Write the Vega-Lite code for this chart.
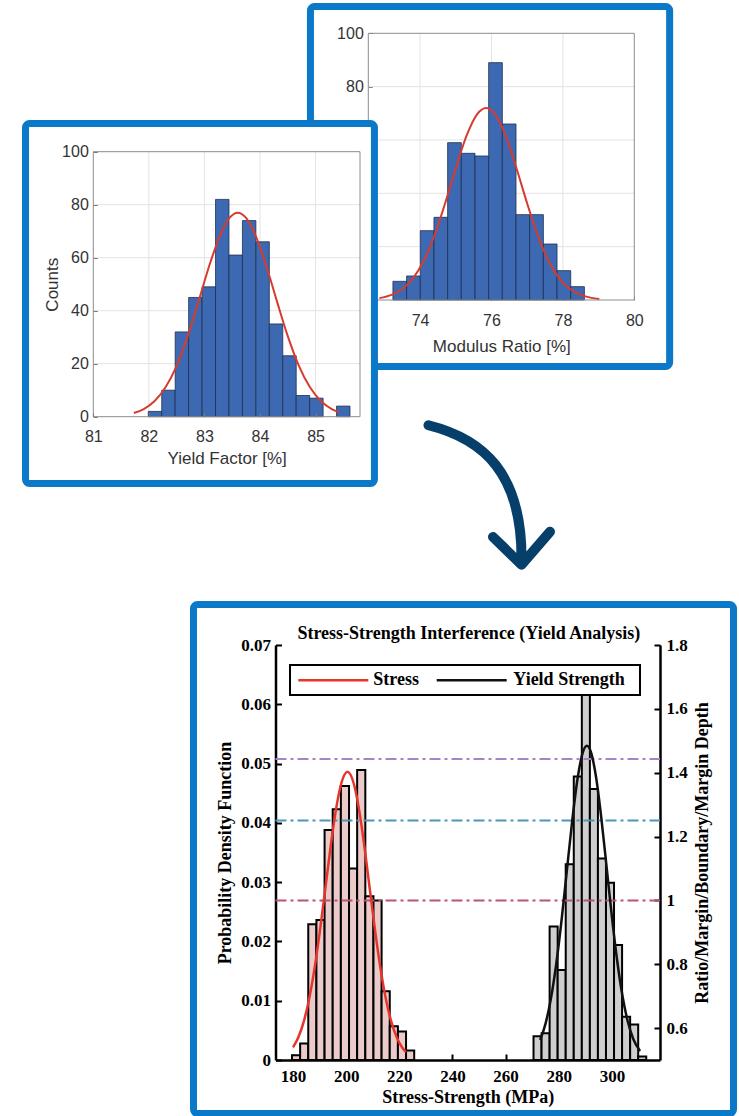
{
"$schema": "https://vega.github.io/schema/vega-lite/v6.json",
"width": 739, "height": 1116,
"autosize": {"type": "none"},
"padding": 0,
"background": "white",
"view": {"stroke": null},
"config": {
  "axis": {"labelFlush": false, "labelOverlap": false, "grid": false, "ticks": true}
},
"datasets": {
  "yf_hist": [
    {"bin_start":81.99,"bin_end":82.232,"count":2},
    {"bin_start":82.232,"bin_end":82.474,"count":10},
    {"bin_start":82.474,"bin_end":82.716,"count":32},
    {"bin_start":82.716,"bin_end":82.958,"count":45},
    {"bin_start":82.958,"bin_end":83.2,"count":49},
    {"bin_start":83.2,"bin_end":83.442,"count":82},
    {"bin_start":83.442,"bin_end":83.684,"count":61},
    {"bin_start":83.684,"bin_end":83.926,"count":74},
    {"bin_start":83.926,"bin_end":84.168,"count":66},
    {"bin_start":84.168,"bin_end":84.41,"count":35},
    {"bin_start":84.41,"bin_end":84.652,"count":23},
    {"bin_start":84.652,"bin_end":84.894,"count":8},
    {"bin_start":84.894,"bin_end":85.136,"count":7},
    {"bin_start":85.378,"bin_end":85.62,"count":4}
  ],
  "yf_fit": [
    {"x":81.73,"y":1.4},{"x":81.9,"y":2.8},{"x":82.1,"y":5.8},{"x":82.3,"y":11.1},{"x":82.5,"y":19.2},
    {"x":82.7,"y":30.4},{"x":82.9,"y":43.9},{"x":83.1,"y":57.8},{"x":83.3,"y":69.4},{"x":83.45,"y":75.0},
    {"x":83.6,"y":77.0},{"x":83.75,"y":75.0},{"x":83.9,"y":69.4},{"x":84.1,"y":57.8},{"x":84.3,"y":43.9},
    {"x":84.5,"y":30.4},{"x":84.7,"y":19.2},{"x":84.9,"y":11.1},{"x":85.1,"y":5.8},{"x":85.3,"y":2.8},{"x":85.42,"y":1.7}
  ],
  "yf_grid_x": [{"v":82},{"v":83},{"v":84},{"v":85}],
  "yf_grid_y": [{"v":20},{"v":40},{"v":60},{"v":80}],
  "mr_hist": [
    {"bin_start":73.24,"bin_end":73.623,"count":7},
    {"bin_start":73.623,"bin_end":74.006,"count":9},
    {"bin_start":74.006,"bin_end":74.389,"count":26},
    {"bin_start":74.389,"bin_end":74.772,"count":31},
    {"bin_start":74.772,"bin_end":75.155,"count":59},
    {"bin_start":75.155,"bin_end":75.538,"count":55},
    {"bin_start":75.538,"bin_end":75.921,"count":54},
    {"bin_start":75.921,"bin_end":76.304,"count":89},
    {"bin_start":76.304,"bin_end":76.687,"count":66},
    {"bin_start":76.687,"bin_end":77.07,"count":32},
    {"bin_start":77.07,"bin_end":77.453,"count":32},
    {"bin_start":77.453,"bin_end":77.836,"count":21},
    {"bin_start":77.836,"bin_end":78.219,"count":11},
    {"bin_start":78.219,"bin_end":78.602,"count":5}
  ],
  "mr_fit": [
    {"x":72.86,"y":0.7},{"x":73.2,"y":1.9},{"x":73.5,"y":4.1},{"x":73.8,"y":8.1},{"x":74.1,"y":14.6},
    {"x":74.4,"y":24.1},{"x":74.7,"y":36.2},{"x":75.0,"y":49.4},{"x":75.3,"y":61.5},{"x":75.6,"y":69.7},
    {"x":75.85,"y":72.0},{"x":76.1,"y":69.7},{"x":76.4,"y":61.5},{"x":76.7,"y":49.4},{"x":77.0,"y":36.2},
    {"x":77.3,"y":24.1},{"x":77.6,"y":14.6},{"x":77.9,"y":8.1},{"x":78.2,"y":4.1},{"x":78.5,"y":1.9},
    {"x":78.8,"y":0.8},{"x":79.02,"y":0.4}
  ],
  "mr_grid_x": [{"v":74},{"v":76},{"v":78}],
  "mr_grid_y": [{"v":20},{"v":40},{"v":60},{"v":80}],
  "ss_hist": [
    {"series":"Stress","bin_start":179.6,"bin_end":182.67,"density":0.0008},
    {"series":"Stress","bin_start":182.67,"bin_end":185.73,"density":0.0028},
    {"series":"Stress","bin_start":185.73,"bin_end":188.8,"density":0.0229},
    {"series":"Stress","bin_start":188.8,"bin_end":191.87,"density":0.0236},
    {"series":"Stress","bin_start":191.87,"bin_end":194.93,"density":0.0388},
    {"series":"Stress","bin_start":194.93,"bin_end":198.0,"density":0.0423},
    {"series":"Stress","bin_start":198.0,"bin_end":201.07,"density":0.0462},
    {"series":"Stress","bin_start":201.07,"bin_end":204.13,"density":0.0323},
    {"series":"Stress","bin_start":204.13,"bin_end":207.2,"density":0.0489},
    {"series":"Stress","bin_start":207.2,"bin_end":210.27,"density":0.0276},
    {"series":"Stress","bin_start":210.27,"bin_end":213.33,"density":0.0269},
    {"series":"Stress","bin_start":213.33,"bin_end":216.4,"density":0.0116},
    {"series":"Stress","bin_start":216.4,"bin_end":219.47,"density":0.0057},
    {"series":"Stress","bin_start":219.47,"bin_end":222.53,"density":0.0048},
    {"series":"Stress","bin_start":222.53,"bin_end":225.6,"density":0.0016},
    {"series":"Yield Strength","bin_start":270.5,"bin_end":273.53,"density":0.0040},
    {"series":"Yield Strength","bin_start":273.53,"bin_end":276.56,"density":0.0045},
    {"series":"Yield Strength","bin_start":276.56,"bin_end":279.59,"density":0.0225},
    {"series":"Yield Strength","bin_start":279.59,"bin_end":282.62,"density":0.0152},
    {"series":"Yield Strength","bin_start":282.62,"bin_end":285.65,"density":0.0330},
    {"series":"Yield Strength","bin_start":285.65,"bin_end":288.68,"density":0.0478},
    {"series":"Yield Strength","bin_start":288.68,"bin_end":291.71,"density":0.0650},
    {"series":"Yield Strength","bin_start":291.71,"bin_end":294.74,"density":0.0457},
    {"series":"Yield Strength","bin_start":294.74,"bin_end":297.77,"density":0.0340},
    {"series":"Yield Strength","bin_start":297.77,"bin_end":300.8,"density":0.0299},
    {"series":"Yield Strength","bin_start":300.8,"bin_end":303.83,"density":0.0194},
    {"series":"Yield Strength","bin_start":303.83,"bin_end":306.86,"density":0.0073},
    {"series":"Yield Strength","bin_start":306.86,"bin_end":309.89,"density":0.0060},
    {"series":"Yield Strength","bin_start":309.89,"bin_end":312.92,"density":0.0006}
  ],
  "ss_fit": [
    {"series":"Stress","x":180,"pdf":0.00214},{"series":"Stress","x":182,"pdf":0.00382},
    {"series":"Stress","x":184,"pdf":0.00642},{"series":"Stress","x":186,"pdf":0.01018},
    {"series":"Stress","x":188,"pdf":0.01521},{"series":"Stress","x":190,"pdf":0.02141},
    {"series":"Stress","x":192,"pdf":0.0284},{"series":"Stress","x":194,"pdf":0.0355},
    {"series":"Stress","x":196,"pdf":0.04181},{"series":"Stress","x":198,"pdf":0.04639},
    {"series":"Stress","x":200.5,"pdf":0.0486},{"series":"Stress","x":203,"pdf":0.04639},
    {"series":"Stress","x":205,"pdf":0.04181},{"series":"Stress","x":207,"pdf":0.0355},
    {"series":"Stress","x":209,"pdf":0.0284},{"series":"Stress","x":211,"pdf":0.02141},
    {"series":"Stress","x":213,"pdf":0.01521},{"series":"Stress","x":215,"pdf":0.01018},
    {"series":"Stress","x":217,"pdf":0.00642},{"series":"Stress","x":219,"pdf":0.00382},
    {"series":"Stress","x":221,"pdf":0.00214},{"series":"Stress","x":222.5,"pdf":0.00133},
    {"series":"Yield Strength","x":273,"pdf":0.00338},{"series":"Yield Strength","x":275,"pdf":0.0061},
    {"series":"Yield Strength","x":277,"pdf":0.01024},{"series":"Yield Strength","x":279,"pdf":0.01603},
    {"series":"Yield Strength","x":281,"pdf":0.02336},{"series":"Yield Strength","x":283,"pdf":0.03172},
    {"series":"Yield Strength","x":285,"pdf":0.0401},{"series":"Yield Strength","x":287,"pdf":0.04723},
    {"series":"Yield Strength","x":289,"pdf":0.05181},{"series":"Yield Strength","x":290.6,"pdf":0.053},
    {"series":"Yield Strength","x":292,"pdf":0.05208},{"series":"Yield Strength","x":294,"pdf":0.04782},
    {"series":"Yield Strength","x":296,"pdf":0.0409},{"series":"Yield Strength","x":298,"pdf":0.03257},
    {"series":"Yield Strength","x":300,"pdf":0.02416},{"series":"Yield Strength","x":302,"pdf":0.0167},
    {"series":"Yield Strength","x":304,"pdf":0.01074},{"series":"Yield Strength","x":306,"pdf":0.00644},
    {"series":"Yield Strength","x":308,"pdf":0.00359},{"series":"Yield Strength","x":310.6,"pdf":0.00151}
  ],
  "limits": [
    {"level":"1.00","value":1.0},
    {"level":"1.25","value":1.25},
    {"level":"1.44","value":1.443}
  ]
},
"layer": [
  {"data": {"values": [{}]},
   "mark": {"type": "rect", "filled": false, "stroke": "#0b78c8", "strokeWidth": 7, "cornerRadius": 4},
   "encoding": {
     "x": {"datum": 70.93, "type": "quantitative", "scale": {"domain": [72.55, 80], "range": [368.3, 634.3], "nice": false, "zero": false}, "axis": null},
     "x2": {"datum": 80.99},
     "y": {"datum": -24.93, "type": "quantitative", "scale": {"domain": [0, 100], "range": [300, 33.3], "nice": false, "zero": false}, "axis": null},
     "y2": {"datum": 110.05}}},
  {"data": {"name": "mr_grid_x"},
   "mark": {"type": "rule", "color": "#e3e3e3", "strokeWidth": 1},
   "encoding": {
     "x": {"field": "v", "type": "quantitative", "scale": {"domain": [72.55, 80], "range": [368.3, 634.3], "nice": false, "zero": false}, "axis": null},
     "y": {"datum": 0, "type": "quantitative", "scale": {"domain": [0, 100], "range": [300, 33.3], "nice": false, "zero": false}, "axis": null},
     "y2": {"datum": 100}}},
  {"data": {"name": "mr_grid_y"},
   "mark": {"type": "rule", "color": "#e3e3e3", "strokeWidth": 1},
   "encoding": {
     "y": {"field": "v", "type": "quantitative", "scale": {"domain": [0, 100], "range": [300, 33.3], "nice": false, "zero": false}, "axis": null},
     "x": {"datum": 72.55, "type": "quantitative", "scale": {"domain": [72.55, 80], "range": [368.3, 634.3], "nice": false, "zero": false}, "axis": null},
     "x2": {"datum": 80}}},
  {"data": {"name": "mr_hist"},
   "mark": {"type": "rect", "fill": "#3d69b3", "stroke": "#1d2f50", "strokeWidth": 0.8},
   "encoding": {
     "x": {"field": "bin_start", "type": "quantitative", "scale": {"domain": [72.55, 80], "range": [368.3, 634.3], "nice": false, "zero": false},
           "axis": {"orient": "bottom", "offset": -816, "values": [74, 76, 78, 80], "format": "d", "title": "Modulus Ratio [%]",
                    "domain": false, "tickSize": -4, "tickColor": "#7a7a7a", "labelPadding": 16,
                    "labelFont": "Liberation Sans", "labelFontSize": 16, "labelColor": "#333333",
                    "titleFont": "Liberation Sans", "titleFontSize": 17, "titleFontWeight": "normal", "titleColor": "#333333", "titlePadding": 10}},
     "x2": {"field": "bin_end"},
     "y": {"field": "count", "type": "quantitative", "scale": {"domain": [0, 100], "range": [300, 33.3], "nice": false, "zero": false},
           "axis": {"orient": "left", "offset": -368.3, "values": [0, 20, 40, 60, 80, 100], "format": "d", "title": null,
                    "domain": false, "tickSize": -4, "tickColor": "#7a7a7a", "labelPadding": 9,
                    "labelFont": "Liberation Sans", "labelFontSize": 16, "labelColor": "#333333"}},
     "y2": {"datum": 0}}},
  {"data": {"name": "mr_fit"},
   "mark": {"type": "line", "color": "#d63b2f", "strokeWidth": 2, "interpolate": "monotone"},
   "encoding": {
     "x": {"field": "x", "type": "quantitative", "scale": {"domain": [72.55, 80], "range": [368.3, 634.3], "nice": false, "zero": false}, "axis": null},
     "y": {"field": "y", "type": "quantitative", "scale": {"domain": [0, 100], "range": [300, 33.3], "nice": false, "zero": false}, "axis": null}}},
  {"data": {"values": [{}]},
   "mark": {"type": "rect", "filled": false, "stroke": "#8c8c8c", "strokeWidth": 1},
   "encoding": {
     "x": {"datum": 72.55, "type": "quantitative", "scale": {"domain": [72.55, 80], "range": [368.3, 634.3], "nice": false, "zero": false}, "axis": null},
     "x2": {"datum": 80},
     "y": {"datum": 0, "type": "quantitative", "scale": {"domain": [0, 100], "range": [300, 33.3], "nice": false, "zero": false}, "axis": null},
     "y2": {"datum": 100}}},

  {"data": {"values": [{}]},
   "mark": {"type": "rect", "fill": "white", "stroke": "#0b78c8", "strokeWidth": 7, "cornerRadius": 4},
   "encoding": {
     "x": {"datum": 79.78, "type": "quantitative", "scale": {"domain": [81, 85.8], "range": [93.3, 360], "nice": false, "zero": false}, "axis": null},
     "x2": {"datum": 86.06},
     "y": {"datum": -25.21, "type": "quantitative", "scale": {"domain": [0, 100], "range": [416.7, 151.7], "nice": false, "zero": false}, "axis": null},
     "y2": {"datum": 110.64}}},
  {"data": {"name": "yf_grid_x"},
   "mark": {"type": "rule", "color": "#e3e3e3", "strokeWidth": 1},
   "encoding": {
     "x": {"field": "v", "type": "quantitative", "scale": {"domain": [81, 85.8], "range": [93.3, 360], "nice": false, "zero": false}, "axis": null},
     "y": {"datum": 0, "type": "quantitative", "scale": {"domain": [0, 100], "range": [416.7, 151.7], "nice": false, "zero": false}, "axis": null},
     "y2": {"datum": 100}}},
  {"data": {"name": "yf_grid_y"},
   "mark": {"type": "rule", "color": "#e3e3e3", "strokeWidth": 1},
   "encoding": {
     "y": {"field": "v", "type": "quantitative", "scale": {"domain": [0, 100], "range": [416.7, 151.7], "nice": false, "zero": false}, "axis": null},
     "x": {"datum": 81, "type": "quantitative", "scale": {"domain": [81, 85.8], "range": [93.3, 360], "nice": false, "zero": false}, "axis": null},
     "x2": {"datum": 85.8}}},
  {"data": {"name": "yf_hist"},
   "mark": {"type": "rect", "fill": "#3d69b3", "stroke": "#1d2f50", "strokeWidth": 0.8},
   "encoding": {
     "x": {"field": "bin_start", "type": "quantitative", "scale": {"domain": [81, 85.8], "range": [93.3, 360], "nice": false, "zero": false},
           "axis": {"orient": "bottom", "offset": -699.3, "values": [81, 82, 83, 84, 85], "format": "d", "title": "Yield Factor [%]",
                    "domain": false, "tickSize": -4, "tickColor": "#7a7a7a", "labelPadding": 16, "zindex": 1,
                    "labelFont": "Liberation Sans", "labelFontSize": 16, "labelColor": "#333333",
                    "titleFont": "Liberation Sans", "titleFontSize": 17, "titleFontWeight": "normal", "titleColor": "#333333", "titlePadding": 6}},
     "x2": {"field": "bin_end"},
     "y": {"field": "count", "type": "quantitative", "scale": {"domain": [0, 100], "range": [416.7, 151.7], "nice": false, "zero": false},
           "axis": {"orient": "left", "offset": -93.3, "values": [0, 20, 40, 60, 80, 100], "format": "d", "title": "Counts",
                    "domain": false, "tickSize": -4, "tickColor": "#7a7a7a", "labelPadding": 9, "zindex": 1,
                    "labelFont": "Liberation Sans", "labelFontSize": 16, "labelColor": "#333333",
                    "titleFont": "Liberation Sans", "titleFontSize": 17, "titleFontWeight": "normal", "titleColor": "#333333", "titlePadding": 0}},
     "y2": {"datum": 0}}},
  {"data": {"name": "yf_fit"},
   "mark": {"type": "line", "color": "#d63b2f", "strokeWidth": 2, "interpolate": "monotone"},
   "encoding": {
     "x": {"field": "x", "type": "quantitative", "scale": {"domain": [81, 85.8], "range": [93.3, 360], "nice": false, "zero": false}, "axis": null},
     "y": {"field": "y", "type": "quantitative", "scale": {"domain": [0, 100], "range": [416.7, 151.7], "nice": false, "zero": false}, "axis": null}}},
  {"data": {"values": [{}]},
   "mark": {"type": "rect", "filled": false, "stroke": "#8c8c8c", "strokeWidth": 1},
   "encoding": {
     "x": {"datum": 81, "type": "quantitative", "scale": {"domain": [81, 85.8], "range": [93.3, 360], "nice": false, "zero": false}, "axis": null},
     "x2": {"datum": 85.8},
     "y": {"datum": 0, "type": "quantitative", "scale": {"domain": [0, 100], "range": [416.7, 151.7], "nice": false, "zero": false}, "axis": null},
     "y2": {"datum": 100}}},

  {"data": {"values": [{}]},
   "mark": {"type": "rect", "filled": false, "stroke": "#0b78c8", "strokeWidth": 7, "cornerRadius": 4},
   "encoding": {
     "x": {"datum": 142.54, "type": "quantitative", "scale": {"domain": [173.4, 318.1], "range": [275.5, 660], "nice": false, "zero": false}, "axis": null},
     "x2": {"datum": 345.76},
     "y": {"datum": -0.009024, "type": "quantitative", "scale": {"domain": [0, 0.07], "range": [1060, 645], "nice": false, "zero": false}, "axis": null},
     "y2": {"datum": 0.07683}}},
  {"data": {"name": "ss_hist"},
   "mark": {"type": "rect", "stroke": "black", "strokeWidth": 2},
   "encoding": {
     "x": {"field": "bin_start", "type": "quantitative", "scale": {"domain": [173.4, 318.1], "range": [275.5, 660], "nice": false, "zero": false},
           "axis": {"orient": "bottom", "offset": -56, "values": [180, 200, 220, 240, 260, 280, 300], "format": "d", "title": "Stress-Strength (MPa)",
                    "domainColor": "black", "domainWidth": 2.5, "tickColor": "black", "tickWidth": 2, "tickSize": -6, "labelPadding": 14,
                    "labelFont": "Liberation Serif", "labelFontWeight": "bold", "labelFontSize": 17, "labelColor": "black",
                    "titleFont": "Liberation Serif", "titleFontWeight": "bold", "titleFontSize": 18, "titleColor": "black", "titlePadding": 4}},
     "x2": {"field": "bin_end"},
     "y": {"field": "density", "type": "quantitative", "scale": {"domain": [0, 0.07], "range": [1060, 645], "nice": false, "zero": false},
           "axis": {"orient": "left", "offset": -275.5, "values": [0, 0.01, 0.02, 0.03, 0.04, 0.05, 0.06, 0.07], "format": ".2~f", "title": "Probability Density Function",
                    "domainColor": "black", "domainWidth": 2.5, "tickColor": "black", "tickWidth": 2, "tickSize": -6, "labelPadding": 11,
                    "labelFont": "Liberation Serif", "labelFontWeight": "bold", "labelFontSize": 17, "labelColor": "black",
                    "titleFont": "Liberation Serif", "titleFontWeight": "bold", "titleFontSize": 18, "titleColor": "black", "titlePadding": 6}},
     "y2": {"datum": 0},
     "fill": {"field": "series", "type": "nominal", "scale": {"domain": ["Stress", "Yield Strength"], "range": ["#ebcaca", "#cecece"]}, "legend": null}}},
  {"data": {"name": "limits"},
   "mark": {"type": "rule", "strokeWidth": 2, "strokeDash": [11, 4, 3, 4]},
   "encoding": {
     "x": {"datum": 173.4, "type": "quantitative", "scale": {"domain": [173.4, 318.1], "range": [275.5, 660], "nice": false, "zero": false}, "axis": null},
     "x2": {"datum": 318.1},
     "y": {"field": "value", "type": "quantitative", "scale": {"domain": [0.5, 1.8], "range": [1060, 645], "nice": false, "zero": false},
           "axis": {"orient": "right", "offset": -79, "values": [0.6, 0.8, 1, 1.2, 1.4, 1.6, 1.8], "format": ".1~f", "title": "Ratio/Margin/Boundary/Margin Depth",
                    "domainColor": "black", "domainWidth": 2.5, "tickColor": "black", "tickWidth": 2, "tickSize": -6, "labelPadding": 12,
                    "labelFont": "Liberation Serif", "labelFontWeight": "bold", "labelFontSize": 17, "labelColor": "black",
                    "titleFont": "Liberation Serif", "titleFontWeight": "bold", "titleFontSize": 18, "titleColor": "black",
                    "titleAngle": 270, "titleBaseline": "top", "titlePadding": 6}},
     "color": {"field": "level", "type": "nominal", "scale": {"domain": ["1.00", "1.25", "1.44"], "range": ["#b85573", "#4f96b4", "#a884c4"]}, "legend": null}}},
  {"data": {"name": "ss_fit"},
   "mark": {"type": "line", "strokeWidth": 2.5, "interpolate": "monotone"},
   "encoding": {
     "x": {"field": "x", "type": "quantitative", "scale": {"domain": [173.4, 318.1], "range": [275.5, 660], "nice": false, "zero": false}, "axis": null},
     "y": {"field": "pdf", "type": "quantitative", "scale": {"domain": [0, 0.07], "range": [1060, 645], "nice": false, "zero": false}, "axis": null},
     "stroke": {"field": "series", "type": "nominal", "scale": {"domain": ["Stress", "Yield Strength"], "range": ["#e8352b", "#111111"]}, "legend": null}}},
  {"data": {"values": [{}]},
   "mark": {"type": "rect", "fill": "white", "stroke": "black", "strokeWidth": 2},
   "encoding": {
     "x": {"datum": 178.86, "type": "quantitative", "scale": {"domain": [173.4, 318.1], "range": [275.5, 660], "nice": false, "zero": false}, "axis": null},
     "x2": {"datum": 310.57},
     "y": {"datum": 0.06157, "type": "quantitative", "scale": {"domain": [0, 0.07], "range": [1060, 645], "nice": false, "zero": false}, "axis": null},
     "y2": {"datum": 0.06663}}},
  {"data": {"values": [{}]},
   "mark": {"type": "rule", "color": "#e8352b", "strokeWidth": 2.5},
   "encoding": {
     "x": {"datum": 181.98, "type": "quantitative", "scale": {"domain": [173.4, 318.1], "range": [275.5, 660], "nice": false, "zero": false}, "axis": null},
     "x2": {"datum": 208.32},
     "y": {"datum": 0.06405, "type": "quantitative", "scale": {"domain": [0, 0.07], "range": [1060, 645], "nice": false, "zero": false}, "axis": null}}},
  {"data": {"values": [{}]},
   "mark": {"type": "text", "text": "Stress", "font": "Liberation Serif", "fontWeight": "bold", "fontSize": 18, "align": "left", "baseline": "middle", "color": "black"},
   "encoding": {
     "x": {"datum": 210.21, "type": "quantitative", "scale": {"domain": [173.4, 318.1], "range": [275.5, 660], "nice": false, "zero": false}, "axis": null},
     "y": {"datum": 0.06405, "type": "quantitative", "scale": {"domain": [0, 0.07], "range": [1060, 645], "nice": false, "zero": false}, "axis": null}}},
  {"data": {"values": [{}]},
   "mark": {"type": "rule", "color": "#111111", "strokeWidth": 2.5},
   "encoding": {
     "x": {"datum": 234.07, "type": "quantitative", "scale": {"domain": [173.4, 318.1], "range": [275.5, 660], "nice": false, "zero": false}, "axis": null},
     "x2": {"datum": 260.41},
     "y": {"datum": 0.06405, "type": "quantitative", "scale": {"domain": [0, 0.07], "range": [1060, 645], "nice": false, "zero": false}, "axis": null}}},
  {"data": {"values": [{}]},
   "mark": {"type": "text", "text": "Yield Strength", "font": "Liberation Serif", "fontWeight": "bold", "fontSize": 18, "align": "left", "baseline": "middle", "color": "black"},
   "encoding": {
     "x": {"datum": 262.89, "type": "quantitative", "scale": {"domain": [173.4, 318.1], "range": [275.5, 660], "nice": false, "zero": false}, "axis": null},
     "y": {"datum": 0.06405, "type": "quantitative", "scale": {"domain": [0, 0.07], "range": [1060, 645], "nice": false, "zero": false}, "axis": null}}},
  {"data": {"values": [{}]},
   "mark": {"type": "text", "text": "Stress-Strength Interference (Yield Analysis)", "font": "Liberation Serif", "fontWeight": "bold", "fontSize": 18, "align": "center", "baseline": "alphabetic", "color": "black"},
   "encoding": {
     "x": {"datum": 246.15, "type": "quantitative", "scale": {"domain": [173.4, 318.1], "range": [275.5, 660], "nice": false, "zero": false}, "axis": null},
     "y": {"datum": 0.07106, "type": "quantitative", "scale": {"domain": [0, 0.07], "range": [1060, 645], "nice": false, "zero": false}, "axis": null}}},
  {"data": {"values": [{}]},
   "mark": {"type": "point", "shape": "M -0.82 -0.93 C -0.1 -0.75 0.44 -0.3 0.42 0.9 M 0.04 0.56 L 0.42 0.93 L 0.8 0.49", "size": 22500, "filled": false, "stroke": "#073f6b", "strokeWidth": 10, "strokeCap": "round", "strokeJoin": "round", "opacity": 1},
   "encoding": {
     "x": {"datum": 254.12, "type": "quantitative", "scale": {"domain": [173.4, 318.1], "range": [275.5, 660], "nice": false, "zero": false}, "axis": null},
     "y": {"datum": 0.0953, "type": "quantitative", "scale": {"domain": [0, 0.07], "range": [1060, 645], "nice": false, "zero": false}, "axis": null}}}
],
"resolve": {"scale": {"x": "independent", "y": "independent"}}
}
